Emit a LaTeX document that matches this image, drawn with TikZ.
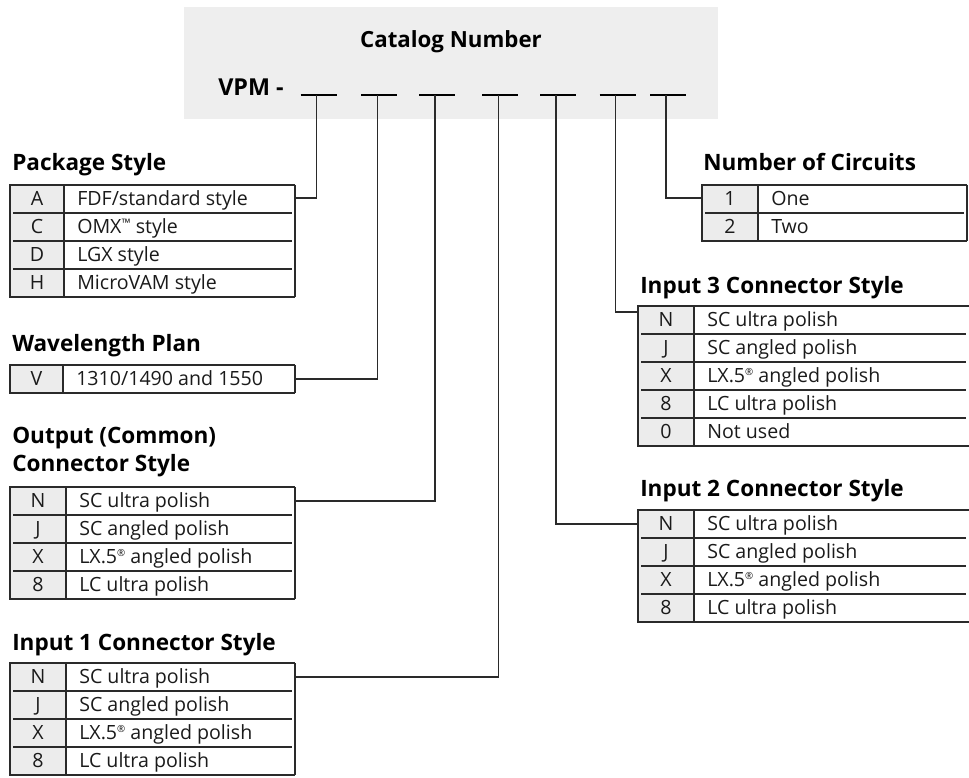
\documentclass[tikz,border=0pt]{standalone}
\usepackage{fontspec}
\setmainfont{Open Sans}
\usepackage{graphicx}
\usetikzlibrary{calc}
\definecolor{boxgray}{HTML}{EEEEEE}
\definecolor{colgray}{HTML}{ECECEC}
\definecolor{linecol}{HTML}{2A2A2A}
\definecolor{txt}{HTML}{1A1A1A}
\newcounter{rowc}
\tikzset{
  tline/.style={draw=linecol, line width=1.1pt},
  sepline/.style={draw=linecol, line width=1.1pt},
  conn/.style={draw=linecol, line width=1.1pt},
  blank/.style={draw=black, line width=1.5pt},
  heading/.style={font=\fontsize{16.9}{20}\selectfont\bfseries, text=black, inner sep=0pt, anchor=base west},
  cell/.style={font=\fontsize{14.7}{17}\selectfont, text=txt, inner sep=0pt, anchor=base},
  desc/.style={cell, anchor=base west},
}
\newcommand\regm{\raisebox{0.38em}{\scalebox{0.5}{®}}}
\newcommand\tmk{\raisebox{0.3em}{\scalebox{0.6}{™}}}
% #1 name #2 left #3 top #4 divider #5 right #6 rows #7 right edge style
\newcommand\tblframe[7]{%
  \fill[colgray] (#2,#3) rectangle (#4,{#3+28*#6});
  \ifnum#6>1
    \foreach \r in {2,...,#6}{\draw[sepline] ({#2+3},{#3+28*(\r-1)}) -- ({#5-3},{#3+28*(\r-1)});}
  \fi
  \draw[tline] (#4,#3) -- (#4,{#3+28*#6});
  \draw[tline] (#5,#3) -- (#2,#3) -- (#2,{#3+28*#6}) -- (#5,{#3+28*#6});
  \draw[#7] (#5,#3) -- (#5,{#3+28*#6});
  \coordinate (#1-nw) at (#2,#3);
  \coordinate (#1-ne) at (#5,#3);
}
% #1 left #2 divider #3 top #4 index #5 letter #6 text
\newcommand\trow[6]{%
  \stepcounter{rowc}%
  \node[cell] (k\therowc) at ({(#1+#2)/2},{#3+28*#4+20.5}) {#5};
  \node[desc] (d\therowc) at ({#2+13},{#3+28*#4+20.5}) {#6};
}
\begin{document}
\begin{tikzpicture}[x=0.75pt,y=-0.75pt]
\useasboundingbox (0,0) rectangle (969,777);
% catalog number box
\fill[boxgray] (184,7) rectangle (718,119);
\node[font=\fontsize{16.7}{20}\selectfont\bfseries, inner sep=0pt, anchor=base] (title) at (451,48) {Catalog Number};
\node[heading, font=\fontsize{17.5}{20}\selectfont\bfseries] (vpm) at (218,96) {VPM -};
\coordinate (s1) at (316.7,95.3);
\coordinate (s2) at (377.3,95.3);
\coordinate (s3) at (435,95.3);
\coordinate (s4) at (498.3,95.3);
\coordinate (s5) at (556,95.3);
\coordinate (s6) at (615.7,95.3);
\coordinate (s7) at (666,95.3);
\foreach \s in {1,...,7}{\draw[blank] ($(s\s)+(-16,0)$) -- ($(s\s)+(20,0)$);}

% Package Style
\node[heading] (hpkg) at (12,171) {Package Style};
\tblframe{pkg}{10}{185}{64}{295}{4}{tline}
\trow{10}{64}{185}{0}{A}{FDF/standard style}
\trow{10}{64}{185}{1}{C}{OMX\tmk{} style}
\trow{10}{64}{185}{2}{D}{LGX style}
\trow{10}{64}{185}{3}{H}{MicroVAM style}

% Wavelength Plan
\node[heading] (hwav) at (12,351) {Wavelength Plan};
\tblframe{wav}{10}{365}{63}{295}{1}{tline}
\trow{10}{63}{365}{0}{V}{1310/1490 and 1550}

% Output
\node[heading] (hout1) at (12,443) {Output (Common)};
\node[heading] (hout2) at (12,471) {Connector Style};
\tblframe{out}{10}{487}{66}{295}{4}{tline}
\trow{10}{66}{487}{0}{N}{SC ultra polish}
\trow{10}{66}{487}{1}{J}{SC angled polish}
\trow{10}{66}{487}{2}{X}{LX.5\regm{} angled polish}
\trow{10}{66}{487}{3}{8}{LC ultra polish}

% Input 1
\node[heading] (hin1) at (12,650) {Input 1 Connector Style};
\tblframe{in1}{10}{663}{66}{295}{4}{tline}
\trow{10}{66}{663}{0}{N}{SC ultra polish}
\trow{10}{66}{663}{1}{J}{SC angled polish}
\trow{10}{66}{663}{2}{X}{LX.5\regm{} angled polish}
\trow{10}{66}{663}{3}{8}{LC ultra polish}

% Number of Circuits
\node[heading] (hcir) at (703,171) {Number of Circuits};
\tblframe{cir}{702}{185}{758}{967}{2}{tline}
\trow{702}{758}{185}{0}{1}{One}
\trow{702}{758}{185}{1}{2}{Two}

% Input 3
\node[heading] (hin3) at (640,293) {Input 3 Connector Style};
\tblframe{in3}{638}{306}{694}{969}{5}{draw=none}
\trow{638}{694}{306}{0}{N}{SC ultra polish}
\trow{638}{694}{306}{1}{J}{SC angled polish}
\trow{638}{694}{306}{2}{X}{LX.5\regm{} angled polish}
\trow{638}{694}{306}{3}{8}{LC ultra polish}
\trow{638}{694}{306}{4}{0}{Not used}

% Input 2
\node[heading] (hin2) at (640,496) {Input 2 Connector Style};
\tblframe{in2}{638}{510}{694}{969}{4}{draw=none}
\trow{638}{694}{510}{0}{N}{SC ultra polish}
\trow{638}{694}{510}{1}{J}{SC angled polish}
\trow{638}{694}{510}{2}{X}{LX.5\regm{} angled polish}
\trow{638}{694}{510}{3}{8}{LC ultra polish}

% connectors
\draw[conn] ($(pkg-ne)+(0,13)$) -| (s1);
\draw[conn] ($(wav-ne)+(0,14)$) -| (s2);
\draw[conn] ($(out-ne)+(0,14)$) -| (s3);
\draw[conn] ($(in1-ne)+(0,14)$) -| (s4);
\draw[conn] ($(in2-nw)+(0,14)$) -| (s5);
\draw[conn] ($(in3-nw)+(0,6)$) -| (s6);
\draw[conn] ($(cir-nw)+(0,13)$) -| (s7);
\end{tikzpicture}
\end{document}
